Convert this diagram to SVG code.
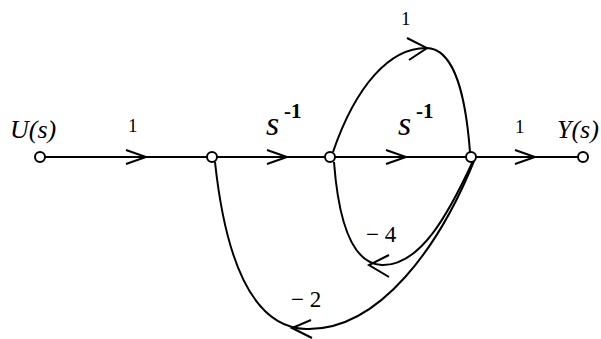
<svg xmlns="http://www.w3.org/2000/svg" width="601" height="339" viewBox="0 0 601 339">
<style>
.e{fill:none;stroke:#000;stroke-width:2}
.a{fill:none;stroke:#000;stroke-width:2;stroke-linejoin:miter}
.n{fill:#fff;stroke:#000;stroke-width:2}
text{font-family:'Liberation Serif','Times New Roman',serif;fill:#000}
</style>
<rect width="601" height="339" fill="#fff"/>
<g id="connectors">
<line class="e" x1="45" y1="157" x2="207" y2="157"/>
<polyline class="a" points="126,150 146,157 126,164"/>
<line class="e" x1="217" y1="157" x2="325" y2="157"/>
<polyline class="a" points="267,150 287,157 267,164"/>
<line class="e" x1="335" y1="157" x2="466" y2="157"/>
<polyline class="a" points="386,150 406,157 386,164"/>
<line class="e" x1="476" y1="157" x2="578" y2="157"/>
<polyline class="a" points="515,150 535,157 515,164"/>
<path class="e" d="M333,152 C356,85 390,48 426,48 C456,48 466,100 470,152"/>
<polyline class="a" points="407,38 427,48 409,60"/>
<path class="e" d="M473,161 C448,215 420,266 382,265 C350,264 338,215 334,162"/>
<polyline class="a" points="389,255 369,265 389,277"/>
<path class="e" d="M474,161 C440,245 380,331 306,329 C250,327 225,255 215,162"/>
<polyline class="a" points="311,320 292,328 312,338"/>
<text x="128" y="132" font-size="19" font-family="Liberation Serif, serif">1</text>
<text x="401" y="25" font-size="19" font-family="Liberation Serif, serif">1</text>
<text x="515" y="133" font-size="19" font-family="Liberation Serif, serif">1</text>
<text x="266" y="135" font-size="34" font-style="italic" font-family="Liberation Serif, serif">s</text>
<text x="284" y="118" font-size="21" font-weight="bold" font-family="Liberation Serif, serif">-1</text>
<text x="398" y="135" font-size="34" font-style="italic" font-family="Liberation Serif, serif">s</text>
<text x="416" y="118" font-size="21" font-weight="bold" font-family="Liberation Serif, serif">-1</text>
<text x="366" y="242" font-size="23" font-family="Liberation Serif, serif">− 4</text>
<text x="291" y="307" font-size="23" font-family="Liberation Serif, serif">− 2</text>
</g>
<text x="10" y="138" font-size="26" font-style="italic" font-family="Liberation Serif, serif">U(s)</text>
<text x="557" y="138" font-size="26" font-style="italic" font-family="Liberation Serif, serif">Y(s)</text>
<g id="n0"><circle class="n" cx="40" cy="157" r="5"/></g>
<g id="n1"><circle class="n" cx="212" cy="157" r="5"/></g>
<g id="n2"><circle class="n" cx="330" cy="157" r="5"/></g>
<g id="n3"><circle class="n" cx="471" cy="157" r="5"/></g>
<g id="n4"><circle class="n" cx="583" cy="157" r="5"/></g>
</svg>
